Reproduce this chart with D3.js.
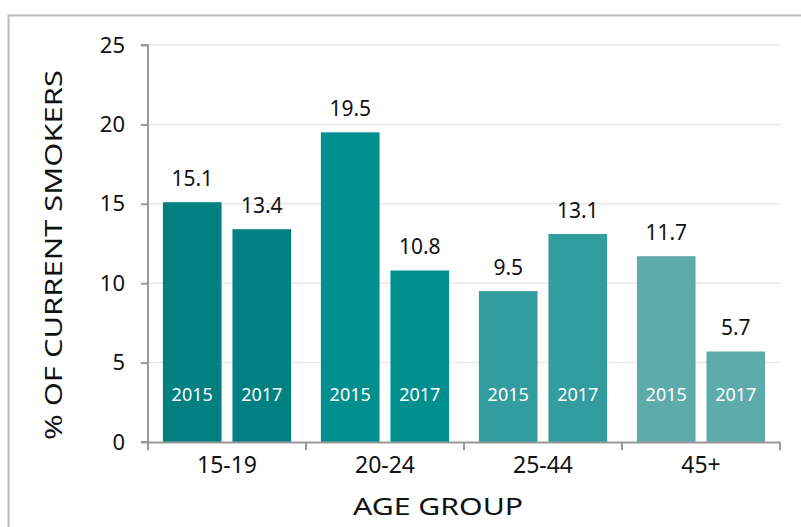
<!DOCTYPE html>
<html><head><meta charset="utf-8">
<script src="https://cdn.jsdelivr.net/npm/d3@7"></script>
<style>body{margin:0;background:#fff}svg{display:block}text{font-family:"Noto Sans",sans-serif}</style>
</head><body><svg id="c" width="801" height="527"></svg>
<script>
const groups = ["15-19","20-24","25-44","45+"];
const years = ["2015","2017"];
const values2015 = [15.1, 19.5, 9.5, 11.7];
const values2017 = [13.4, 10.8, 13.1, 5.7];
const yTicks = [0,5,10,15,20,25];
const groupColors = ["#008080","#008f8f","#339c9e","#5eabac"];

const svg = d3.select("#c");
const m = {l:148, r:780, t:45, b:442};
svg.append("path").attr("d","M8.5,527 V15.5 H801").attr("fill","none").attr("stroke","#bcbcbc").attr("stroke-width",2);

const y = d3.scaleLinear().domain([0,25]).range([m.b,m.t]);
const x0 = d3.scaleBand().domain(groups).range([m.l,m.r]).paddingInner(0).paddingOuter(0);
const x1 = d3.scaleBand().domain(years).range([0,x0.bandwidth()]).paddingInner(0.157).paddingOuter(0.214);

// gridlines
svg.append("g").selectAll("line").data(yTicks.filter(d=>d>0)).join("line")
  .attr("x1",m.l).attr("x2",m.r).attr("y1",d=>y(d)).attr("y2",d=>y(d))
  .attr("stroke","#e8e8e8").attr("stroke-width",1.5);

const data = groups.map((g,i)=>({g,i,vals:[{yr:"2015",v:values2015[i]},{yr:"2017",v:values2017[i]}]}));
const gg = svg.append("g").selectAll("g").data(data).join("g").attr("transform",d=>`translate(${x0(d.g)},0)`);
gg.selectAll("rect").data(d=>d.vals.map(e=>({...e,i:d.i}))).join("rect")
  .attr("x",d=>x1(d.yr)).attr("width",x1.bandwidth())
  .attr("y",d=>y(d.v)).attr("height",d=>y(0)-y(d.v)).attr("fill",d=>groupColors[d.i]);
gg.selectAll("text.v").data(d=>d.vals).join("text").attr("class","v")
  .attr("x",d=>x1(d.yr)+x1.bandwidth()/2).attr("y",d=>y(d.v)-16)
  .attr("text-anchor","middle").attr("font-size",21).attr("fill","#111").text(d=>d.v.toFixed(1));
gg.selectAll("text.yr").data(d=>d.vals).join("text").attr("class","yr")
  .attr("x",d=>x1(d.yr)+x1.bandwidth()/2).attr("y",401)
  .attr("text-anchor","middle").attr("font-size",18).attr("fill","#fff").text(d=>d.yr);

// y axis
const ya = svg.append("g").attr("transform",`translate(${m.l},0)`)
  .call(d3.axisLeft(y).tickValues(yTicks).tickSize(7).tickPadding(16));
ya.select(".domain").attr("stroke","#999").attr("stroke-width",2).attr("d",`M-7,${m.t}H0V${m.b}H-7`);
ya.selectAll(".tick line").attr("stroke","#999").attr("stroke-width",2);
ya.selectAll("text").attr("font-size",22).attr("fill","#111").attr("font-family","Noto Sans, sans-serif");

// x axis
const xa = svg.append("g").attr("transform",`translate(0,${m.b})`)
  .call(d3.axisBottom(x0).tickSize(0).tickPadding(0));
xa.select(".domain").attr("stroke","#999").attr("stroke-width",2);
xa.selectAll("text").attr("dy",null).attr("y",31).attr("font-size",23).attr("fill","#111").attr("font-family","Noto Sans, sans-serif");
svg.append("g").selectAll("line").data(d3.range(groups.length+1)).join("line")
  .attr("x1",i=>m.l+i*x0.step()).attr("x2",i=>m.l+i*x0.step())
  .attr("y1",m.b).attr("y2",m.b+8).attr("stroke","#999").attr("stroke-width",2);

svg.append("text").attr("x",438).attr("y",515).attr("text-anchor","middle").attr("font-size",23)
  .attr("textLength",170).attr("lengthAdjust","spacingAndGlyphs").attr("fill","#111").text("AGE GROUP");
svg.append("text").attr("transform","translate(62,255) rotate(-90)").attr("text-anchor","middle").attr("font-size",23)
  .attr("textLength",370).attr("lengthAdjust","spacingAndGlyphs").attr("fill","#111").text("% OF CURRENT SMOKERS");
</script></body></html>
